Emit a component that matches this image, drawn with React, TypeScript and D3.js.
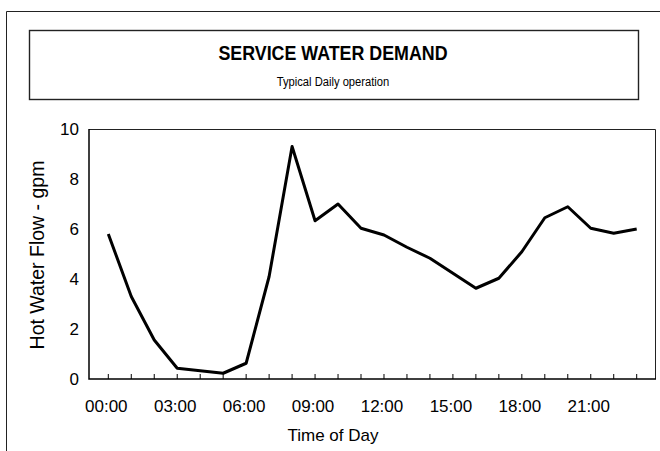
import React from "react";
import * as d3 from "d3";

// hourly flow, gpm
const hours = d3.range(0, 24);
const flow = [
  5.8, 3.3, 1.56, 0.43, 0.33, 0.23, 0.63, 4.1, 9.3, 6.33, 7.0, 6.03,
  5.76, 5.27, 4.83, 4.23, 3.63, 4.03, 5.09, 6.45, 6.89, 6.03, 5.83, 6.0,
];
const yTicks = [0, 2, 4, 6, 8, 10];
const xLabelHours = [0, 3, 6, 9, 12, 15, 18, 21];

const W = 660;
const H = 451;
const plot = { left: 89, right: 656, top: 129, bottom: 379 };
const font = "'Liberation Sans', Arial, sans-serif";

const fmtHour = (h: number) => `${String(h).padStart(2, "0")}:00`;

export default function App() {
  const x = d3
    .scaleLinear()
    .domain([-0.84, 23.84])
    .range([plot.left, plot.right]);
  const y = d3.scaleLinear().domain([0, 10]).range([plot.bottom, plot.top]);

  const path = d3
    .line<number>()
    .x((_, i) => x(hours[i]))
    .y((d) => y(d))(flow);

  return (
    <svg
      width={W}
      height={H}
      style={{ position: "absolute", left: 0, top: 0, background: "#fff" }}
      fontFamily={font}
    >
      {/* outer chart frame */}
      <path d="M6.5,451 V11.5 H660" fill="none" stroke="#222" strokeWidth={1} />

      {/* title box, scan text is a bit squeezed sideways */}
      <rect x={29.5} y={30.5} width={609} height={69} fill="#fff" stroke="#222" strokeWidth={1.4} />
      <text
        transform="translate(333,59.5) scale(0.85,1)"
        textAnchor="middle"
        fontSize={21}
        fontWeight="bold"
      >
        SERVICE WATER DEMAND
      </text>
      <text transform="translate(333,85.5) scale(0.83,1)" textAnchor="middle" fontSize={13.5}>
        Typical Daily operation
      </text>

      {/* plot frame */}
      <path
        d={`M${plot.left},${plot.top + 0.5} H${plot.right - 0.5} V${plot.bottom}`}
        fill="none"
        stroke="#222"
        strokeWidth={1}
      />
      <path
        d={`M${plot.left},${plot.top} V${plot.bottom} H${plot.right}`}
        fill="none"
        stroke="#000"
        strokeWidth={1.5}
      />

      {/* x ticks (inward) */}
      {hours.map((h) => (
        <line key={h} x1={x(h)} x2={x(h)} y1={plot.bottom} y2={plot.bottom - 5} stroke="#000" strokeWidth={1} />
      ))}

      {/* y tick labels */}
      {yTicks.map((t) => (
        <text key={t} x={79} y={y(t)} dy="0.36em" textAnchor="end" fontSize={17}>
          {t}
        </text>
      ))}

      {/* x tick labels */}
      {xLabelHours.map((h) => (
        <text key={h} x={x(h) - 2} y={412} textAnchor="middle" fontSize={17}>
          {fmtHour(h)}
        </text>
      ))}

      <text x={333} y={441} textAnchor="middle" fontSize={17}>
        Time of Day
      </text>
      <text
        transform={`translate(44,255) rotate(-90)`}
        textAnchor="middle"
        fontSize={19.5}
      >
        Hot Water Flow - gpm
      </text>

      <path d={path ?? ""} fill="none" stroke="#000" strokeWidth={3} strokeLinejoin="round" />
    </svg>
  );
}
